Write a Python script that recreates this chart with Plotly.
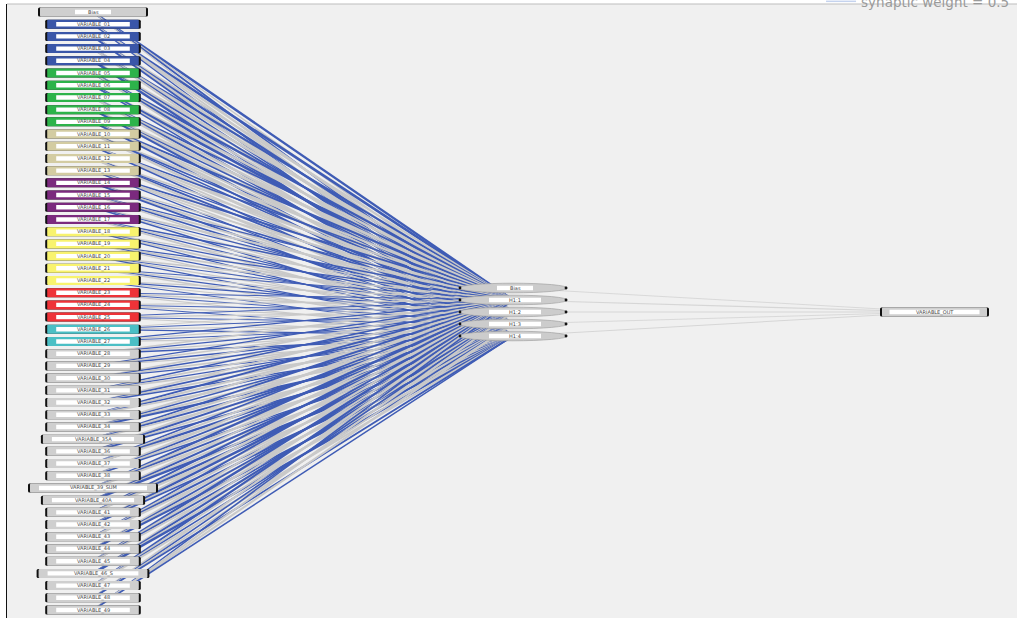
import plotly.graph_objects as go

# ---------------- data ----------------
input_labels = [
    "Bias",
    "VARIABLE_01", "VARIABLE_02", "VARIABLE_03", "VARIABLE_04",
    "VARIABLE_05", "VARIABLE_06", "VARIABLE_07", "VARIABLE_08", "VARIABLE_09",
    "VARIABLE_10", "VARIABLE_11", "VARIABLE_12", "VARIABLE_13",
    "VARIABLE_14", "VARIABLE_15", "VARIABLE_16", "VARIABLE_17",
    "VARIABLE_18", "VARIABLE_19", "VARIABLE_20", "VARIABLE_21", "VARIABLE_22",
    "VARIABLE_23", "VARIABLE_24", "VARIABLE_25",
    "VARIABLE_26", "VARIABLE_27",
    "VARIABLE_28", "VARIABLE_29", "VARIABLE_30", "VARIABLE_31", "VARIABLE_32",
    "VARIABLE_33", "VARIABLE_34", "VARIABLE_35A", "VARIABLE_36", "VARIABLE_37",
    "VARIABLE_38", "VARIABLE_39_SUM", "VARIABLE_40A", "VARIABLE_41",
    "VARIABLE_42", "VARIABLE_43", "VARIABLE_44", "VARIABLE_45",
    "VARIABLE_46_S", "VARIABLE_47", "VARIABLE_48", "VARIABLE_49",
]
input_groups = (["bias"] + ["blue"] * 4 + ["green"] * 5 + ["tan"] * 4 +
                ["purple"] * 4 + ["yellow"] * 5 + ["red"] * 3 + ["cyan"] * 2 +
                ["gray"] * 22)
hidden_labels = ["Bias", "H1:1", "H1:2", "H1:3", "H1:4"]
output_labels = ["VARIABLE_OUT"]

# input -> hidden weights (rows: input nodes incl. bias, cols: H1..H4)
weights_ih = [
    [0.7, -0.4, 0.5, -0.3],
    [0.8, -0.7, -0.5, 0.3],
    [-0.6, 0.7, -0.8, 0.5],
    [0.6, -0.9, 0.4, -0.6],
    [-0.8, 0.5, -0.6, 0.7],
    [0.7, -0.6, 0.8, -0.5],
    [-0.7, 0.8, -0.4, 0.4],
    [0.5, -0.8, 0.6, -0.7],
    [-0.9, 0.4, -0.7, 0.6],
    [0.6, -0.5, -0.8, 0.5],
    [-0.6, 0.5, 0.4, -0.7],
    [0.4, -0.7, -0.5, 0.4],
    [-0.5, 0.3, 0.5, -0.6],
    [0.5, -0.6, -0.4, 0.3],
    [-0.4, 0.4, -0.6, 0.5],
    [0.3, -0.5, 0.4, -0.4],
    [-0.6, 0.3, -0.3, 0.4],
    [0.4, -0.4, 0.3, -0.5],
    [-0.3, 0.3, -0.5, 0.3],
    [0.3, -0.5, 0.3, -0.3],
    [-0.4, 0.2, -0.3, 0.3],
    [0.2, -0.3, 0.3, -0.4],
    [-0.3, 0.3, -0.2, 0.2],
    [0.2, -0.4, 0.2, -0.3],
    [-0.3, 0.2, -0.3, 0.2],
    [0.2, -0.3, 0.2, -0.2],
    [-0.2, 0.2, -0.3, 0.3],
    [0.3, -0.3, 0.2, -0.3],
    [-0.4, 0.3, -0.3, 0.4],
    [0.3, -0.4, 0.4, -0.3],
    [-0.5, 0.4, -0.4, 0.3],
    [0.4, -0.5, 0.3, -0.5],
    [-0.5, 0.5, -0.5, 0.4],
    [0.5, -0.6, 0.4, -0.5],
    [-0.6, 0.4, -0.6, 0.6],
    [0.5, -0.7, 0.5, -0.4],
    [-0.7, 0.6, -0.5, 0.5],
    [0.4, -0.6, 0.7, -0.6],
    [-0.6, 0.5, -0.7, 0.4],
    [0.7, -0.7, 0.5, -0.6],
    [-0.5, 0.6, -0.6, 0.7],
    [0.6, -0.5, 0.7, -0.7],
    [-0.7, 0.7, -0.5, 0.5],
    [0.5, -0.6, 0.6, -0.6],
    [-0.6, 0.5, -0.7, 0.6],
    [0.7, -0.7, 0.5, -0.5],
    [-0.5, 0.6, -0.6, 0.7],
    [0.6, -0.5, 0.4, -0.6],
    [-0.6, 0.4, -0.5, 0.5],
    [0.4, -0.6, -0.6, 0.4],
]
# hidden (incl. bias) -> output weights
weights_ho = [-0.2, -0.3, -0.25, -0.2, -0.3]
legend_label = "synaptic weight = 0.5"

# ---------------- styles / layout ----------------
W, H = 1017, 618
ML, MT = 7, 4
group_fill = {
    "bias": "#cfcfcf", "blue": "#3a56a8", "green": "#2db34a", "tan": "#d3cca2",
    "purple": "#7b2a7e", "yellow": "#f8f36e", "red": "#ee3338",
    "cyan": "#4bbfc5", "gray": "#cfcfcf",
}
POS_COL = "#3f5cb5"
NEG_COL = "#c9c9c9"
X_IN, X_HID, X_OUT = 93, 513, 934.5
Y_TOP, Y_BOT = 12, 610
HID_Y0, HID_STEP = 288, 12
OUT_Y = 312
BOX_H = 9
n_in = len(input_labels)
y_in = [Y_TOP + i * (Y_BOT - Y_TOP) / (n_in - 1) for i in range(n_in)]
y_hid = [HID_Y0 + k * HID_STEP for k in range(len(hidden_labels))]


def box_width(label, i):
    if i == 0:
        return 110
    return 8.6 * len(label) + 1


def rrect(x0, y0, x1, y1, r):
    return (f"M {x0+r},{y0} L {x1-r},{y0} Q {x1},{y0} {x1},{y0+r} "
            f"L {x1},{y1-r} Q {x1},{y1} {x1-r},{y1} L {x0+r},{y1} "
            f"Q {x0},{y1} {x0},{y1-r} L {x0},{y0+r} Q {x0},{y0} {x0+r},{y0} Z")


fig = go.Figure()

# input -> hidden edges
for i in range(n_in):
    for j, w in enumerate(weights_ih[i]):
        fig.add_trace(go.Scatter(
            x=[X_IN, X_HID], y=[y_in[i], y_hid[j + 1]], mode="lines",
            line=dict(color=POS_COL if w > 0 else NEG_COL, width=0.4 + 2.8 * abs(w)),
            hoverinfo="skip", showlegend=False))

# hidden -> output edges
for k, w in enumerate(weights_ho):
    fig.add_trace(go.Scatter(
        x=[X_HID, X_OUT], y=[y_hid[k], OUT_Y], mode="lines",
        line=dict(color="#d6d6d6" if w < 0 else "#c5d3ee", width=0.5 + 2 * abs(w)),
        hoverinfo="skip", showlegend=False))

# legend entry
fig.add_trace(go.Scatter(x=[None], y=[None], mode="lines",
                         line=dict(color="#c5d3ee", width=1.5),
                         name=legend_label, showlegend=True))

shapes = []
annotations = []


def add_box(xc, yc, wdt, fill, label, strip_w):
    x0, x1 = xc - wdt / 2, xc + wdt / 2
    y0, y1 = yc - BOX_H / 2, yc + BOX_H / 2
    shapes.append(dict(type="path", path=rrect(x0, y0, x1, y1, 1.5),
                       xref="x", yref="y", fillcolor="#111111",
                       line=dict(width=0), layer="above"))
    shapes.append(dict(type="path", path=rrect(x0 + 2, y0, x1 - 2, y1, 1.0),
                       xref="x", yref="y", fillcolor=fill,
                       line=dict(width=0), layer="above"))
    shapes.append(dict(type="rect", x0=xc - strip_w / 2, x1=xc + strip_w / 2,
                       y0=yc - 2.2, y1=yc + 2.2, xref="x", yref="y",
                       fillcolor="white", line=dict(width=0), layer="above"))
    annotations.append(dict(x=xc, y=yc, xref="x", yref="y", text=label,
                            showarrow=False, font=dict(size=5, color="#444444",
                                                       family="DejaVu Sans")))


for i, lab in enumerate(input_labels):
    wdt = box_width(lab, i)
    strip = 36 if i == 0 else wdt - 22
    add_box(X_IN, y_in[i], wdt, group_fill[input_groups[i]], lab, strip)

# hidden nodes (elongated ellipses)
HW = 109
for k, lab in enumerate(hidden_labels):
    yc = y_hid[k]
    x0, x1 = X_HID - HW / 2, X_HID + HW / 2
    shapes.append(dict(type="circle", x0=x0, x1=x1, y0=yc - 4.8, y1=yc + 4.8,
                       xref="x", yref="y", fillcolor="#cccccc",
                       line=dict(color="#9a9a9a", width=0.6), layer="above"))
    for xx in (x0 + 1.5, x1 - 1.5):
        shapes.append(dict(type="circle", x0=xx - 1.4, x1=xx + 1.4, y0=yc - 1.4,
                           y1=yc + 1.4, xref="x", yref="y", fillcolor="#111111",
                           line=dict(width=0), layer="above"))
    sw = 36 if k == 0 else 52
    shapes.append(dict(type="rect", x0=X_HID - sw / 2 + 2, x1=X_HID + sw / 2 + 2,
                       y0=yc - 2.2, y1=yc + 2.2, xref="x", yref="y",
                       fillcolor="white", line=dict(width=0), layer="above"))
    annotations.append(dict(x=X_HID + 2, y=yc, xref="x", yref="y", text=lab,
                            showarrow=False, font=dict(size=5, color="#444444",
                                                       family="DejaVu Sans")))

# output node
add_box(X_OUT, OUT_Y, 109, "#cfcfcf", output_labels[0], 90)

# top border line
shapes.append(dict(type="line", xref="paper", yref="paper", x0=0, x1=1, y0=1, y1=1,
                   line=dict(color="#bdbdbd", width=1)))

fig.update_layout(
    width=W, height=H,
    margin=dict(l=ML, r=0, t=MT, b=0, autoexpand=False),
    paper_bgcolor="white", plot_bgcolor="#f0f0f0",
    xaxis=dict(range=[ML, W], showgrid=False, zeroline=False, showticklabels=False,
               ticks="", fixedrange=True),
    yaxis=dict(range=[H, MT], showgrid=False, zeroline=False, showticklabels=False,
               ticks="", showline=True, linecolor="#111111", linewidth=1,
               fixedrange=True),
    shapes=shapes, annotations=annotations,
    showlegend=True,
    legend=dict(x=0.806, y=1.004, xanchor="left", yanchor="middle",
                bgcolor="rgba(0,0,0,0)", font=dict(size=13.5, color="#9a9a9a",
                                                   family="DejaVu Sans"),
                itemwidth=30, borderwidth=0),
    font=dict(family="DejaVu Sans"),
)

fig.write_html("out.html")
